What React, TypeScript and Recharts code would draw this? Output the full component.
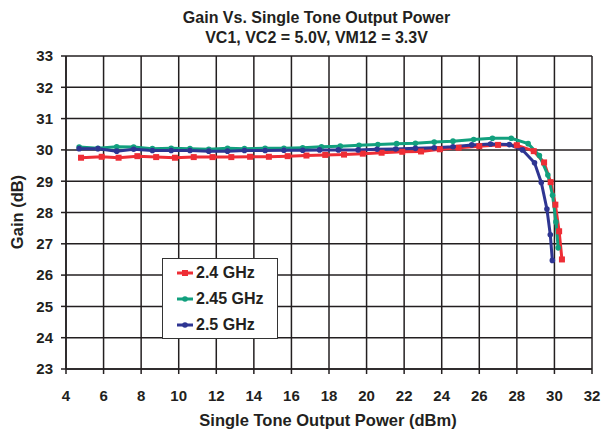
import React from "react";
import { LineChart, Line, XAxis, YAxis, CartesianGrid } from "recharts";

// Gain vs single tone output power, three carrier frequencies.

const xTicks = [4, 6, 8, 10, 12, 14, 16, 18, 20, 22, 24, 26, 28, 30, 32];
const yTicks = [23, 24, 25, 26, 27, 28, 29, 30, 31, 32, 33];

const pout24 = [4.8, 5.9, 6.8, 7.8, 8.8, 9.8, 10.8, 11.8, 12.8, 13.8, 14.8, 15.8, 16.8, 17.8, 18.8, 19.8, 20.8, 21.9, 22.9, 23.9, 24.9, 26.0, 27.0, 28.0, 28.9, 29.45, 29.8, 30.05, 30.25, 30.4];
const gain24 = [29.75, 29.78, 29.75, 29.8, 29.77, 29.75, 29.77, 29.77, 29.77, 29.78, 29.78, 29.8, 29.82, 29.84, 29.85, 29.88, 29.91, 29.94, 29.95, 30.02, 30.07, 30.12, 30.16, 30.15, 29.96, 29.6, 28.97, 28.25, 27.4, 26.5];

const pout245 = [4.7, 5.7, 6.7, 7.6, 8.6, 9.6, 10.6, 11.6, 12.6, 13.5, 14.6, 15.6, 16.6, 17.6, 18.6, 19.6, 20.6, 21.6, 22.6, 23.6, 24.6, 25.7, 26.7, 27.7, 28.6, 29.2, 29.65, 29.9, 30.08, 30.2];
const gain245 = [30.09, 30.05, 30.1, 30.09, 30.04, 30.05, 30.04, 30.02, 30.05, 30.04, 30.05, 30.05, 30.07, 30.1, 30.12, 30.15, 30.17, 30.2, 30.21, 30.25, 30.28, 30.33, 30.37, 30.37, 30.2, 29.82, 29.2, 28.55, 27.7, 26.87];

const pout25 = [4.7, 5.7, 6.7, 7.6, 8.6, 9.6, 10.6, 11.6, 12.6, 13.5, 14.6, 15.6, 16.6, 17.5, 18.5, 19.55, 20.56, 21.55, 22.6, 23.6, 24.6, 25.6, 26.6, 27.6, 28.3, 28.94, 29.3, 29.6, 29.78, 29.89];
const gain25 = [30.04, 30.04, 29.96, 30.02, 29.98, 29.98, 29.98, 29.96, 29.96, 29.98, 29.98, 29.99, 29.99, 30.0, 30.0, 30.0, 30.02, 30.03, 30.05, 30.07, 30.1, 30.16, 30.19, 30.17, 30.0, 29.59, 28.96, 28.11, 27.29, 26.47];

const RED = "#EE2D35";
const GREEN = "#12A07E";
const BLUE = "#2E3592";

const toRows = (xs: number[], ys: number[]) => xs.map((x, i) => ({ x, y: ys[i] }));

const series = [
  { name: "2.4 GHz", color: RED, data: toRows(pout24, gain24), marker: "square" },
  { name: "2.45 GHz", color: GREEN, data: toRows(pout245, gain245), marker: "circle" },
  { name: "2.5 GHz", color: BLUE, data: toRows(pout25, gain25), marker: "circle" },
];

const font = "'Liberation Sans', Arial, sans-serif";
const ink = "#231f20";

function makeDot(color: string, marker: string) {
  return (p: any) => {
    if (p.cx == null || p.cy == null) return <g key={p.index} />;
    if (marker === "square") {
      return <rect key={p.index} x={p.cx - 3} y={p.cy - 3} width={6} height={6} fill={color} />;
    }
    return <circle key={p.index} cx={p.cx} cy={p.cy} r={2.8} fill={color} />;
  };
}

function LegendBox() {
  return (
    <div
      style={{
        position: "absolute",
        left: 162,
        top: 258,
        width: 116,
        height: 81,
        border: "1.5px solid #333",
        background: "#fff",
        fontFamily: font,
        fontWeight: "bold",
        fontSize: 16,
        color: ink,
        boxSizing: "border-box",
        paddingTop: 1,
      }}
    >
      {series.map((s) => (
        <div key={s.name} style={{ display: "flex", alignItems: "center", height: 26, paddingLeft: 13 }}>
          <svg width={18} height={10} style={{ marginRight: 2 }}>
            <line x1={1} y1={5} x2={17} y2={5} stroke={s.color} strokeWidth={3} />
            {s.marker === "square" ? (
              <rect x={6} y={2} width={6} height={6} fill={s.color} />
            ) : (
              <circle cx={9} cy={5} r={2.8} fill={s.color} />
            )}
          </svg>
          <span>{s.name}</span>
        </div>
      ))}
    </div>
  );
}

export default function App() {
  const tickStyle = { fontFamily: font, fontWeight: "bold", fontSize: 15, fill: ink };
  return (
    <div style={{ position: "relative", width: 601, height: 435, background: "#fff" }}>
      <style>{`body{margin:0}`}</style>
      <div
        style={{
          position: "absolute",
          left: 0,
          width: 633,
          top: 8,
          textAlign: "center",
          fontFamily: font,
          fontWeight: "bold",
          fontSize: 16,
          lineHeight: "20px",
          color: ink,
        }}
      >
        <div>Gain Vs. Single Tone Output Power</div>
        <div>VC1, VC2 = 5.0V, VM12 = 3.3V</div>
      </div>
      <div
        style={{
          position: "absolute",
          left: 17,
          top: 212,
          transform: "translate(-50%, -50%) rotate(-90deg)",
          fontFamily: font,
          fontWeight: "bold",
          fontSize: 16.5,
          color: ink,
          whiteSpace: "nowrap",
        }}
      >
        Gain (dB)
      </div>
      <div
        style={{
          position: "absolute",
          left: 0,
          width: 656,
          top: 411,
          textAlign: "center",
          fontFamily: font,
          fontWeight: "bold",
          fontSize: 16.5,
          color: ink,
        }}
      >
        Single Tone Output Power (dBm)
      </div>
      <LineChart
        width={601}
        height={435}
        margin={{ top: 56, right: 9, bottom: 0, left: 0 }}
        style={{ position: "absolute", left: 0, top: 0 }}
      >
        <CartesianGrid stroke={ink} strokeWidth={1.5} horizontalValues={yTicks} verticalValues={xTicks} />
        <XAxis
          type="number"
          dataKey="x"
          domain={[4, 32]}
          ticks={xTicks}
          allowDuplicatedCategory={false}
          height={66}
          tickSize={5}
          tickMargin={16}
          tick={tickStyle}
          axisLine={{ stroke: ink, strokeWidth: 1.5 }}
          tickLine={{ stroke: ink, strokeWidth: 1.5 }}
          interval={0}
        />
        <YAxis
          type="number"
          domain={[23, 33]}
          ticks={yTicks}
          width={66}
          tickSize={5}
          tickMargin={8}
          tick={tickStyle}
          axisLine={{ stroke: ink, strokeWidth: 1.5 }}
          tickLine={{ stroke: ink, strokeWidth: 1.5 }}
          interval={0}
        />
        {series.map((s) => (
          <Line
            key={s.name}
            data={s.data}
            dataKey="y"
            name={s.name}
            type="linear"
            stroke={s.color}
            strokeWidth={3}
            dot={makeDot(s.color, s.marker)}
            activeDot={false}
            isAnimationActive={false}
          />
        ))}
      </LineChart>
      <LegendBox />
    </div>
  );
}
